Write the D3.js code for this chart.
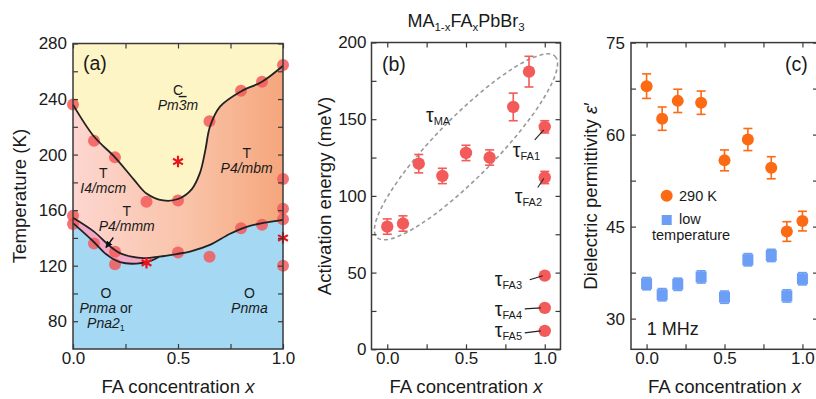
<!DOCTYPE html>
<html><head><meta charset="utf-8">
<script src="https://cdn.jsdelivr.net/npm/d3@7"></script>
<style>
body{margin:0;background:#fff;}
svg{display:block;font-family:Arial,"Liberation Sans",sans-serif;}
</style></head><body>
<svg id="chart" width="816" height="399"></svg>
<script>
// ================= DATA =================
// Panel (a): phase diagram of MA(1-x)FA(x)PbBr3
const phaseX = [0, 0, 0, 0.1, 0.1, 0.2, 0.2, 0.2, 0.35, 0.5, 0.5, 0.65, 0.65, 0.8, 0.8, 0.9, 0.9, 1, 1, 1, 1, 1];
const phaseT = [236, 156, 150, 210, 136, 198, 130, 121, 166, 167, 129.5, 224, 126.5, 246, 147, 252.5, 149.5, 264.5, 182.5, 161, 153.5, 120];
const starX = [0.5, 0.35, 1.0];
const starT = [195, 122, 140];
// phase boundaries [x, T]
const cubicBoundary = [[0,236],[0.1,213],[0.2,198],[0.29,182],[0.35,172],[0.43,167],[0.5,168],[0.565,175],[0.605,187],[0.63,203],[0.652,220],[0.7,234.5],[0.8,245.5],[0.9,252.5],[1.0,264]];
const tetraBoundary = [[0,154.5],[0.1,144.5],[0.176,134],[0.232,128.5],[0.335,125.5],[0.41,126.5],[0.494,128.4],[0.557,130.2],[0.652,135],[0.748,143],[0.827,148],[0.906,150.8],[1,153]];
const orthoBoundary = [[0,150.6],[0.097,137.4],[0.16,128],[0.224,122.5],[0.303,121.5],[0.37,123.5],[0.41,126.5]];
const tempTickLabels = [80, 120, 160, 200, 240, 280];
const tempTicks = [80, 100, 120, 140, 160, 180, 200, 220, 240, 260, 280];
const fracTickLabels = [0.0, 0.5, 1.0];
const fracTicks = [0, 0.25, 0.5, 0.75, 1.0];

// Panel (b): activation energies
const mixX = [0, 0.1, 0.2, 0.35, 0.5, 0.65, 0.8, 0.9];
const mixEa = [80, 82, 121, 113, 128, 125, 158, 181];
const mixErr = [5, 5, 6, 5, 5, 5, 9, 10];
const faModes = ["FA1", "FA2", "FA3", "FA4", "FA5"];
const faEa = [145, 112, 48, 27, 12];
const faErr = [4, 4, 0, 0, 0];
const eaTickLabels = [0, 50, 100, 150, 200];
const eaTicks = [0, 25, 50, 75, 100, 125, 150, 175, 200];

// Panel (c): dielectric permittivity at 1 MHz
const epsX = [0, 0.1, 0.2, 0.35, 0.5, 0.65, 0.8, 0.9, 1.0];
const eps290 = [67.9, 62.6, 65.5, 65.2, 55.8, 59.2, 54.6, 44.2, 45.9];
const eps290Err = [2.0, 1.9, 1.9, 1.9, 1.7, 1.8, 1.8, 1.6, 1.6];
const epsLow = [35.7, 33.9, 35.6, 36.8, 33.5, 39.6, 40.3, 33.7, 36.5];
const epsLowErr = [1.0, 1.0, 1.0, 1.0, 1.0, 1.0, 1.0, 1.0, 1.0];
const epsTickLabels = [30, 45, 60, 75];
const epsTicks = [30, 37.5, 45, 52.5, 60, 67.5, 75];

// ================= DRAW =================
const svg = d3.select("#chart");
const AX = "#3a3a3a", TXT = "#1a1a1a";
const RED = "#f35a5a", ORANGE = "#fc6a14", BLUE = "#6b9ef4";

const fmtFrac = d3.format(".1f");
function inList(list, d){ return list.some(v => Math.abs(v - d) < 1e-9); }

function drawFrame(g, x, y, xt, xl, yt, yl, opts = {}) {
  const [x0, x1] = x.range(), [y0, y1] = y.range();
  const style = sel => {
    sel.select(".domain").remove();
    sel.selectAll(".tick line").attr("stroke", AX).attr("stroke-width", 1.2);
    sel.selectAll(".tick text").attr("fill", TXT).attr("font-size", 17).attr("font-family", "Arial, 'Liberation Sans', sans-serif");
  };
  g.append("g").attr("transform", `translate(0,${y0})`)
    .call(d3.axisBottom(x).tickValues(xt).tickSizeInner(-5).tickSizeOuter(0).tickPadding(3)
      .tickFormat(d => inList(xl, d) ? fmtFrac(d) : "")).call(style);
  g.append("g").attr("transform", `translate(0,${y1})`)
    .call(d3.axisTop(x).tickValues(xt).tickSizeInner(-5).tickSizeOuter(0).tickFormat("")).call(style);
  g.append("g").attr("transform", `translate(${x0},0)`)
    .call(d3.axisLeft(y).tickValues(yt).tickSizeInner(-5).tickSizeOuter(0).tickPadding(opts.ypad || 6)
      .tickFormat(d => inList(yl, d) ? d : "")).call(style);
  g.append("g").attr("transform", `translate(${x1},0)`)
    .call(d3.axisRight(y).tickValues(yt).tickSizeInner(-5).tickSizeOuter(0).tickFormat("")).call(style);
  g.append("rect").attr("x", x0).attr("y", y1).attr("width", x1 - x0).attr("height", y0 - y1)
    .attr("fill", "none").attr("stroke", AX).attr("stroke-width", 1.5);
}

function xTitle(g, cx) {
  const t = g.append("text").attr("x", cx).attr("y", 393).attr("text-anchor", "middle")
    .attr("font-size", 18.6).attr("fill", TXT);
  t.append("tspan").text("FA concentration ");
  t.append("tspan").attr("font-style", "italic").text("x");
}

// ---------- Panel (a) ----------
const xA = d3.scaleLinear([0, 1], [73, 283]);
const yA = d3.scaleLinear([60, 280], [349, 43.5]);
const gA = svg.append("g");
const defs = svg.append("defs");
const grad = defs.append("linearGradient").attr("id", "tgrad").attr("gradientUnits", "userSpaceOnUse")
  .attr("x1", xA(0)).attr("x2", xA(1)).attr("y1", 0).attr("y2", 0);
grad.append("stop").attr("offset", "0%").attr("stop-color", "#fdd6d0");
grad.append("stop").attr("offset", "55%").attr("stop-color", "#f9c3a8");
grad.append("stop").attr("offset", "100%").attr("stop-color", "#f5a67c");
defs.append("clipPath").attr("id", "clipA").append("rect")
  .attr("x", xA(0)).attr("y", yA(280)).attr("width", xA(1) - xA(0)).attr("height", yA(60) - yA(280));
defs.append("marker").attr("id", "arrowHead").attr("viewBox", "0 0 10 10").attr("refX", 9).attr("refY", 5)
  .attr("markerWidth", 7).attr("markerHeight", 7).attr("orient", "auto").attr("markerUnits", "userSpaceOnUse")
  .append("path").attr("d", "M0,0 L10,5 L0,10 z").attr("fill", "#111");

const bgA = gA.append("g").attr("clip-path", "url(#clipA)");
bgA.append("rect").attr("x", xA(0)).attr("y", yA(280)).attr("width", xA(1) - xA(0)).attr("height", yA(60) - yA(280)).attr("fill", "url(#tgrad)");
const curve = d3.curveCatmullRom.alpha(0.5);
bgA.append("path").attr("fill", "#fef5c6")
  .attr("d", d3.area().x(d => xA(d[0])).y0(yA(290)).y1(d => yA(d[1])).curve(curve)(cubicBoundary));
bgA.append("path").attr("fill", "#a5d8f3")
  .attr("d", d3.area().x(d => xA(d[0])).y0(yA(50)).y1(d => yA(d[1])).curve(curve)(tetraBoundary));
const lineA = d3.line().x(d => xA(d[0])).y(d => yA(d[1])).curve(curve);
const tetraLeft = tetraBoundary.filter(d => d[0] <= 0.41);
const pinkPath = lineA(tetraLeft) + lineA(orthoBoundary.slice().reverse()).replace(/^M/, "L") + "Z";
bgA.append("path").attr("fill", "#f2a7c6").attr("d", pinkPath);

// points
gA.append("g").selectAll("circle").data(phaseX).join("circle")
  .attr("cx", (d, i) => xA(d)).attr("cy", (d, i) => yA(phaseT[i])).attr("r", 6)
  .attr("fill", RED).attr("fill-opacity", 0.85);

// boundaries
[cubicBoundary, tetraBoundary, orthoBoundary].forEach(b => {
  gA.append("path").attr("d", lineA(b)).attr("fill", "none").attr("stroke", "#222").attr("stroke-width", 1.8);
});

// stars
gA.append("g").selectAll("path").data(starX).join("path")
  .attr("transform", (d, i) => `translate(${xA(d)},${yA(starT[i])})`)
  .attr("d", d3.symbol(d3.symbolAsterisk, 90)).attr("fill", "none").attr("stroke", "#e8141c").attr("stroke-width", 2.2);

// phase labels
const phaseLabels = [
  {x: 0.5, T: 243, parts: [["C", false]]},
  {x: 0.5, T: 232.2, parts: [["Pm", true], ["3", true, true], ["m", true]]},
  {x: 0.144, T: 183.2, parts: [["T", false]]},
  {x: 0.144, T: 172.4, parts: [["I4/mcm", true]]},
  {x: 0.827, T: 197.6, parts: [["T", false]]},
  {x: 0.827, T: 186.8, parts: [["P4/mbm", true]]},
  {x: 0.256, T: 155.5, parts: [["T", false]]},
  {x: 0.256, T: 145.1, parts: [["P4/mmm", true]]},
  {x: 0.157, T: 96.9, parts: [["O", false]]},
  {x: 0.157, T: 86.1, parts: [["Pnma", true], [" or", false]]},
  {x: 0.157, T: 75.3, parts: [["Pna2", true], ["1", false, false, true]]},
  {x: 0.84, T: 96.9, parts: [["O", false]]},
  {x: 0.84, T: 86.1, parts: [["Pnma", true]]}
];
phaseLabels.forEach(l => {
  const t = gA.append("text").attr("x", xA(l.x)).attr("y", yA(l.T)).attr("text-anchor", "middle")
    .attr("font-size", 14).attr("fill", TXT);
  l.parts.forEach(p => {
    const s = t.append("tspan").text(p[0]);
    if (p[1]) s.attr("font-style", "italic");
    if (p[2]) s.style("text-decoration", "overline");
    if (p[3]) s.attr("font-size", 9).attr("dy", 3);
  });
});
// arrow to P4/mmm region
gA.append("line").attr("x1", xA(0.192)).attr("y1", yA(140.3)).attr("x2", xA(0.157)).attr("y2", yA(133.1))
  .attr("stroke", "#111").attr("stroke-width", 1.3).attr("marker-end", "url(#arrowHead)");

drawFrame(gA, xA, yA, fracTicks, fracTickLabels, tempTicks, tempTickLabels);
gA.append("text").attr("x", 83).attr("y", 70).attr("font-size", 19.5).attr("fill", TXT).text("(a)");
xTitle(gA, xA(0.5));
gA.append("text").attr("transform", `translate(26,196) rotate(-90)`).attr("text-anchor", "middle")
  .attr("font-size", 18.6).attr("fill", TXT).text("Temperature (K)");

// ---------- Panel (b) ----------
const xB = d3.scaleLinear([-0.1, 1.1], [371.5, 560.5]);
const yB = d3.scaleLinear([0, 200], [349.3, 42.5]);
const gB = svg.append("g");
// dashed ellipse around tau_MA data
gB.append("ellipse").attr("cx", 0).attr("cy", 0).attr("rx", 127).attr("ry", 30)
  .attr("transform", `translate(${xB(0.5)},${yB(132)}) rotate(-45.5)`)
  .attr("fill", "none").attr("stroke", "#9a9a9a").attr("stroke-width", 1.6).attr("stroke-dasharray", "4,3");

function errBars(g, xs, ys, es, x, y, color, cap) {
  const gg = g.append("g").attr("stroke", color).attr("stroke-width", 1.6);
  xs.forEach((d, i) => {
    if (!es[i]) return;
    const cx = x(d), t = y(ys[i] + es[i]), b = y(ys[i] - es[i]);
    gg.append("line").attr("x1", cx).attr("x2", cx).attr("y1", t).attr("y2", b);
    gg.append("line").attr("x1", cx - cap).attr("x2", cx + cap).attr("y1", t).attr("y2", t);
    gg.append("line").attr("x1", cx - cap).attr("x2", cx + cap).attr("y1", b).attr("y2", b);
  });
}
errBars(gB, mixX, mixEa, mixErr, xB, yB, RED, 4.5);
const faX = faModes.map(() => 1.0);
errBars(gB, faX, faEa, faErr, xB, yB, RED, 4.5);
gB.append("g").selectAll("circle").data(mixX).join("circle")
  .attr("cx", d => xB(d)).attr("cy", (d, i) => yB(mixEa[i])).attr("r", 6.2).attr("fill", RED);
gB.append("g").selectAll("circle").data(faX).join("circle")
  .attr("cx", d => xB(d)).attr("cy", (d, i) => yB(faEa[i])).attr("r", 6.2).attr("fill", RED);

function tauLabel(g, x, y, sub) {
  const t = g.append("text").attr("x", x).attr("y", y).attr("fill", TXT);
  t.append("tspan").attr("font-size", 19.5).text("τ");
  t.append("tspan").attr("font-size", 11).attr("dy", 3).text(sub);
}
tauLabel(gB, 426, 122, "MA");
// label offsets (pixels) relative to each FA point, and leader lines
const faLabelDX = [-32, -30, -50, -50, -50];
const faLabelDY = [30, 26, 10, 8, 6];
const faLeadStart = [[-10, 13], [-7, 10], [-15, 4], [-20, 1], [-20, 2]];
const faLeadEnd = [[-1, 3], [-1, 1], [-2, 0], [-4, 0], [-4, 0]];
faModes.forEach((m, i) => {
  const px = xB(1.0), py = yB(faEa[i]);
  gB.append("line").attr("x1", px + faLeadStart[i][0]).attr("y1", py + faLeadStart[i][1])
    .attr("x2", px + faLeadEnd[i][0]).attr("y2", py + faLeadEnd[i][1]).attr("stroke", "#222").attr("stroke-width", 1.1);
  tauLabel(gB, px + faLabelDX[i], py + faLabelDY[i], m);
});

drawFrame(gB, xB, yB, fracTicks, fracTickLabels, eaTicks, eaTickLabels, {ypad: 5});
gB.append("text").attr("x", 382).attr("y", 71).attr("font-size", 19.5).attr("fill", TXT).text("(b)");
xTitle(gB, xB(0.5));
gB.append("text").attr("transform", `translate(331,196) rotate(-90)`).attr("text-anchor", "middle")
  .attr("font-size", 18.6).attr("fill", TXT).text("Activation energy (meV)");
// title
const title = svg.append("text").attr("x", 466).attr("y", 27).attr("text-anchor", "middle").attr("font-size", 18).attr("fill", TXT);
title.append("tspan").text("MA");
title.append("tspan").attr("font-size", 11.5).attr("dy", 4).text("1-x");
title.append("tspan").attr("dy", -4).text("FA");
title.append("tspan").attr("font-size", 11.5).attr("dy", 4).text("x");
title.append("tspan").attr("dy", -4).text("PbBr");
title.append("tspan").attr("font-size", 11.5).attr("dy", 4).text("3");

// ---------- Panel (c) ----------
const xC = d3.scaleLinear([-0.1, 1.1], [631, 818]);
const yC = d3.scaleLinear([25, 75], [349.3, 42.6]);
const gC = svg.append("g");
errBars(gC, epsX, eps290, eps290Err, xC, yC, ORANGE, 4.5);
errBars(gC, epsX, epsLow, epsLowErr, xC, yC, BLUE, 4.5);
gC.append("g").selectAll("circle").data(epsX).join("circle")
  .attr("cx", d => xC(d)).attr("cy", (d, i) => yC(eps290[i])).attr("r", 6).attr("fill", ORANGE);
gC.append("g").selectAll("rect").data(epsX).join("rect")
  .attr("x", d => xC(d) - 5.5).attr("y", (d, i) => yC(epsLow[i]) - 5.5).attr("width", 11).attr("height", 11).attr("fill", BLUE);
drawFrame(gC, xC, yC, fracTicks, fracTickLabels, epsTicks, epsTickLabels, {ypad: 6});
gC.append("text").attr("x", 785).attr("y", 71).attr("font-size", 19.5).attr("fill", TXT).text("(c)");
xTitle(gC, xC(0.5));
const yt = gC.append("text").attr("transform", `translate(597,196) rotate(-90)`).attr("text-anchor", "middle")
  .attr("font-size", 18.6).attr("fill", TXT);
yt.append("tspan").text("Dielectric permittivity ");
yt.append("tspan").attr("font-style", "italic").text("ε");
yt.append("tspan").text("′");
// legend
gC.append("circle").attr("cx", 666.7).attr("cy", 195.7).attr("r", 6).attr("fill", ORANGE);
gC.append("text").attr("x", 679).attr("y", 200.7).attr("font-size", 14.5).attr("fill", TXT).text("290 K");
gC.append("rect").attr("x", 661.7).attr("y", 215).attr("width", 10).attr("height", 10).attr("fill", BLUE);
gC.append("text").attr("x", 679).attr("y", 224).attr("font-size", 14.5).attr("fill", TXT).text("low");
gC.append("text").attr("x", 652).attr("y", 240).attr("font-size", 14.5).attr("fill", TXT).text("temperature");
gC.append("text").attr("x", 646.7).attr("y", 335).attr("font-size", 18).attr("fill", TXT).text("1 MHz");
</script>
</body></html>
